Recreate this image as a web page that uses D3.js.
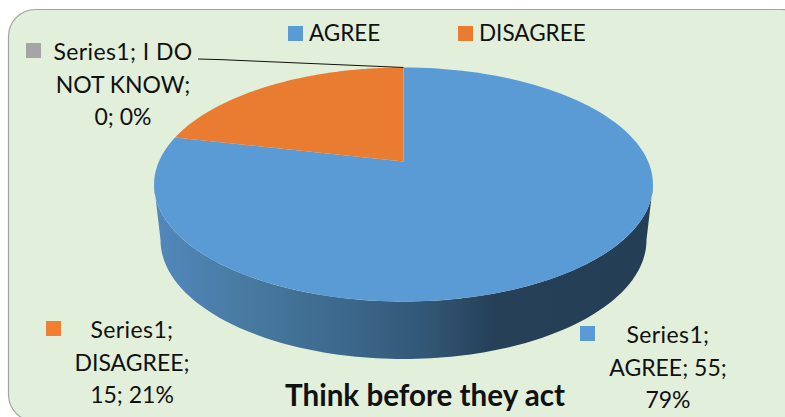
<!DOCTYPE html>
<html>
<head>
<meta charset="utf-8">
<script src="https://cdn.jsdelivr.net/npm/d3@7"></script>
<style>
  html, body { margin: 0; padding: 0; background: #fff; overflow: hidden; }
  text { font-family: Lato, "Noto Sans", sans-serif; fill: #111; }
</style>
</head>
<body>
<svg id="chart" width="785" height="417" style="display:block"></svg>
<script>
const categories = ["AGREE", "DISAGREE", "I DO NOT KNOW"]
const values = [55, 15, 0]
const colors = ["#5b9bd5", "#e97c30", "#a5a5a5"]
const legendItems = ["AGREE", "DISAGREE"]
const title = "Think before they act"
const seriesName = "Series1"

const svg = d3.select("#chart")
const color = d3.scaleOrdinal().domain(categories).range(colors)

const total = d3.sum(values)
const pct = v => `${Math.round((v / total) * 100)}%`
const labelLines = [
  [`${seriesName}; I DO`, "NOT KNOW;", `${values[2]}; ${pct(values[2])}`],
  [`${seriesName};`, `${categories[1]};`, `${values[1]}; ${pct(values[1])}`],
  [`${seriesName};`, `${categories[0]}; ${values[0]};`, pct(values[0])]
]

svg.append("rect")
  .attr("x", 8.5)
  .attr("y", 9.5)
  .attr("width", 800)
  .attr("height", 412)
  .attr("rx", 27)
  .attr("fill", "#e2efda")
  .attr("stroke", "#a3a3a3")
  .attr("stroke-width", 1.2)

// the pie lies tilted, so the disc goes through a small perspective projection
const k = 0.1966
const cx = 403.5
const project = (a, y0, sx, sy) => {
  const u = Math.sin(a)
  const v = Math.cos(a)
  const w = 1 + k * v
  return [cx + (sx * 244.6 * u) / w, y0 - (sy * 112.5 * v) / w]
}
const topRim = a => project(a, 161.5, 1, 1)
const bottomRim = a => project(a, 216.6, 0.974, 1.017)
const line = d3.line()
const sweep = (from, to) => d3.range(0, 121).map(i => from + ((to - from) * i) / 120)

const defs = svg.append("defs")
const grad = defs.append("linearGradient")
  .attr("id", "wall")
  .attr("gradientUnits", "userSpaceOnUse")
  .attr("x1", 154)
  .attr("x2", 653)
  .attr("y1", 0)
  .attr("y2", 0)
grad.selectAll("stop")
  .data([[0, "#5288bc"], [0.2, "#47799f"], [0.42, "#3a6488"], [0.55, "#325674"], [0.68, "#264058"], [1, "#243e56"]])
  .join("stop")
  .attr("offset", d => d[0])
  .attr("stop-color", d => d[1])

const edge = Math.acos(-k)
svg.append("path")
  .attr("d", line([
    ...sweep(edge, 2 * Math.PI - edge).map(topRim),
    ...sweep(2 * Math.PI - edge, edge).map(bottomRim)
  ]) + "Z")
  .attr("fill", "url(#wall)")

const arcs = d3.pie().sort(null)(values)
svg.append("g")
  .selectAll("path")
  .data(arcs)
  .join("path")
  .attr("d", d => line([[cx, 161.5], ...sweep(d.startAngle, d.endAngle).map(topRim)]) + "Z")
  .attr("fill", (d, i) => colors[i])

// leader line for the empty slice
svg.append("path")
  .attr("d", line([[198, 59], [220, 59.6], topRim(arcs[2].startAngle)]))
  .attr("fill", "none")
  .attr("stroke", "#111")
  .attr("stroke-width", 1)

// legend
const legend = svg.append("g")
  .selectAll("g")
  .data(legendItems)
  .join("g")
  .attr("transform", (d, i) => `translate(${[288, 458][i]},26)`)
legend.append("rect")
  .attr("width", 15)
  .attr("height", 15)
  .attr("fill", d => color(d))
legend.append("text")
  .attr("x", 21)
  .attr("y", 15)
  .attr("font-size", 22.5)
  .text(d => d)

// data labels
const labelPos = [
  {x: 123, y: 60, mx: 26, my: 43, cat: categories[2]},
  {x: 132, y: 338, mx: 46, my: 321, cat: categories[1]},
  {x: 668, y: 343, mx: 580, my: 326, cat: categories[0]}
]
labelPos.forEach((p, i) => {
  svg.append("rect")
    .attr("x", p.mx)
    .attr("y", p.my)
    .attr("width", 15)
    .attr("height", 15)
    .attr("fill", i === 1 ? "#f07f32" : color(p.cat))
  svg.append("text")
    .attr("text-anchor", "middle")
    .attr("font-size", 23)
    .selectAll("tspan")
    .data(labelLines[i])
    .join("tspan")
    .attr("x", p.x)
    .attr("y", (d, j) => p.y + j * 32.7)
    .attr("letter-spacing", d => (d.startsWith(seriesName) ? 0.4 : 0))
    .text(d => d)
})

svg.append("text")
  .attr("x", 425)
  .attr("y", 406)
  .attr("text-anchor", "middle")
  .attr("font-size", 29.6)
  .attr("font-weight", 700)
  .text(title)
</script>
</body>
</html>
